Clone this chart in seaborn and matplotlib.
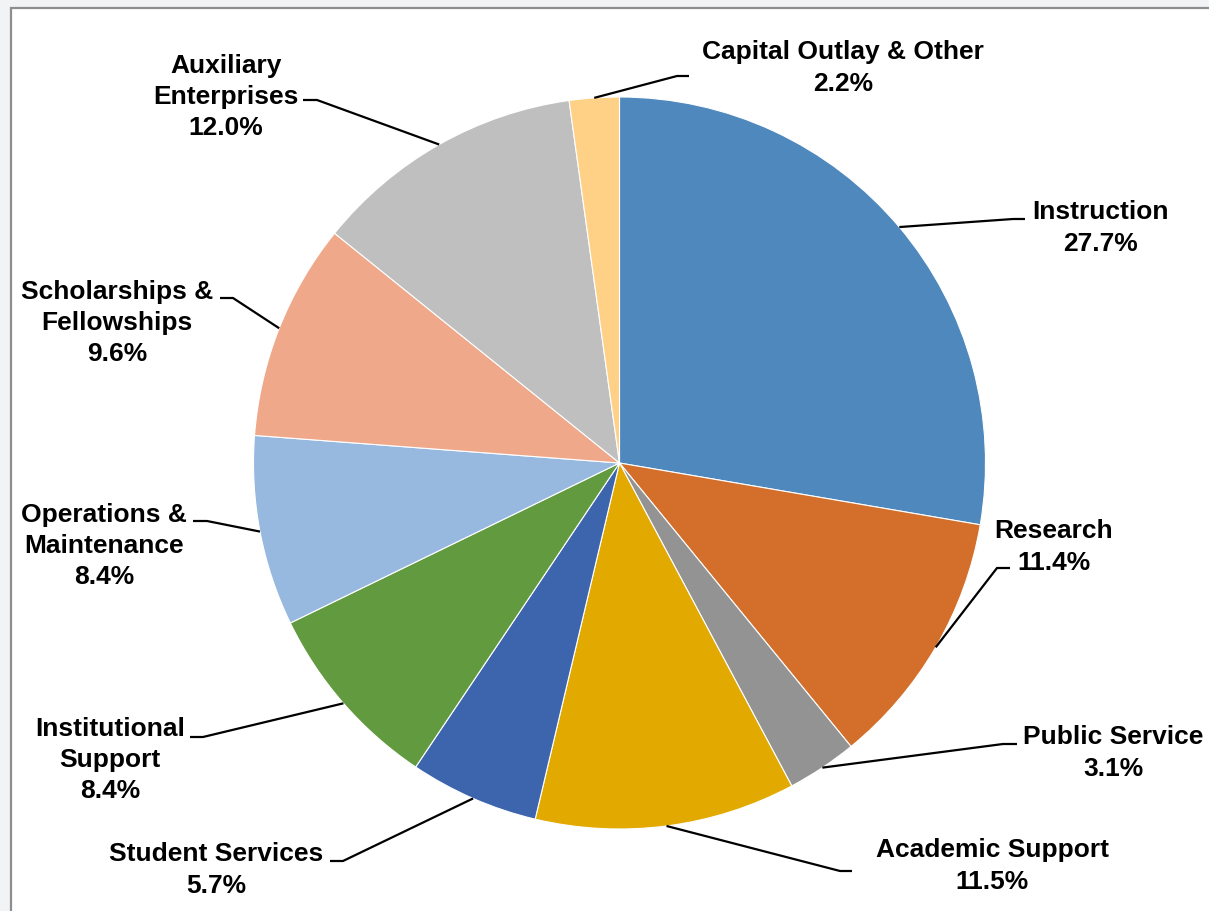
import matplotlib
matplotlib.use("Agg")
import matplotlib.pyplot as plt
from matplotlib.patches import Rectangle
import numpy as np
import seaborn as sns

# Expenditure shares by function (%), clockwise from 12 o'clock
categories = [
    "Instruction", "Research", "Public Service", "Academic Support",
    "Student Services", "Institutional\nSupport", "Operations &\nMaintenance",
    "Scholarships &\nFellowships", "Auxiliary\nEnterprises", "Capital Outlay & Other",
]
shares = [27.7, 11.4, 3.1, 11.5, 5.7, 8.4, 8.4, 9.6, 12.0, 2.2]
colors = [
    "#4F88BD", "#D36F2B", "#939393", "#E2A900", "#3C65AD",
    "#629A3F", "#97B9DF", "#F0A88A", "#BFBFBF", "#FED187",
]

sns.set_theme(style="white")
plt.rcParams["font.family"] = ["Liberation Sans", "DejaVu Sans"]

W, H = 1209, 911
fig = plt.figure(figsize=(W / 100, H / 100), dpi=100)
fig.patch.set_facecolor("#F2F3F5")

ax = fig.add_axes([0, 0, 1, 1])
ax.set_facecolor("none")
ax.axis("off")

# white chart area with a thin grey frame on the top and left
ax.add_patch(Rectangle((10.5 / W, -0.05), 1.1, (H - 7.5) / H + 0.05,
                       transform=fig.transFigure, facecolor="white",
                       edgecolor="#8E8E8E", linewidth=1.6, zorder=-10,
                       clip_on=False))

cx, cy, R = 619.5, H - 463, 366
palette = sns.color_palette(colors)
wedges, _ = ax.pie(shares, colors=palette, startangle=90, counterclock=False,
                   center=(cx, cy), radius=R,
                   wedgeprops=dict(edgecolor="white", linewidth=0.8))
ax.set_xlim(0, W)
ax.set_ylim(0, H)
ax.set_aspect("equal")

# label layout: (text centre, elbow, line end) in screen pixels (y downward)
layout = [
    ((1100, 228), (1013, 219), (1025, 219)),
    ((1054, 547), (997, 568), (1010, 568)),
    ((1113, 753), (1003, 744), (1017, 744)),
    ((992, 866), (840, 871), (852, 871)),
    ((216, 870), (343, 861), (330, 861)),
    ((110, 760), (203, 737), (190, 737)),
    ((104, 546), (207, 521), (193, 521)),
    ((117, 323), (233, 298), (220, 298)),
    ((226, 97), (317, 100), (303, 100)),
    ((843, 68), (677, 76), (689, 76)),
]

for w, name, val, (tpos, elbow, end) in zip(wedges, categories, shares, layout):
    ang = np.deg2rad((w.theta1 + w.theta2) / 2)
    ax_, ay_ = cx + R * np.cos(ang), cy + R * np.sin(ang)
    xs = [ax_, elbow[0], end[0]]
    ys = [ay_, H - elbow[1], H - end[1]]
    ax.plot(xs, ys, color="black", linewidth=1.6, solid_capstyle="butt", zorder=3)
    ax.text(tpos[0], H - tpos[1], f"{name}\n{val:.1f}%", ha="center", va="center",
            multialignment="center", fontsize=19, fontweight="bold",
            color="black", linespacing=1.38, zorder=4)

fig.savefig("out.png", dpi=100, facecolor=fig.get_facecolor())
